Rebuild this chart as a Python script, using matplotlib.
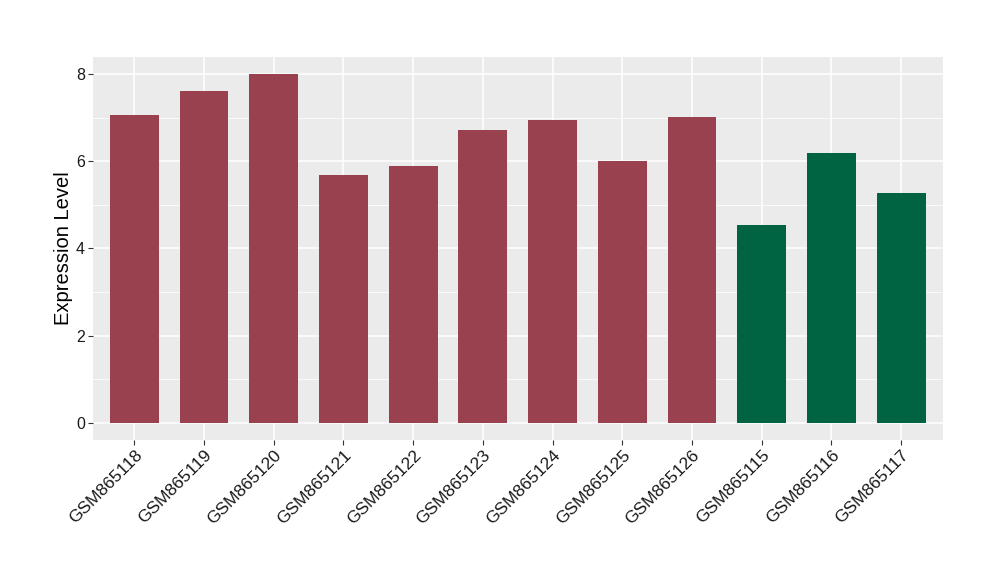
import matplotlib
matplotlib.use("Agg")
import matplotlib.pyplot as plt
import numpy as np

samples = ["GSM865118", "GSM865119", "GSM865120", "GSM865121", "GSM865122", "GSM865123",
           "GSM865124", "GSM865125", "GSM865126", "GSM865115", "GSM865116", "GSM865117"]
values = [7.07, 7.62, 8.01, 5.69, 5.89, 6.72, 6.95, 6.01, 7.02, 4.54, 6.19, 5.28]
groups = ["A"] * 9 + ["B"] * 3
group_colors = {"A": "#9A4150", "B": "#006443"}

plt.rcParams['font.family'] = ['Liberation Sans', 'DejaVu Sans']

fig = plt.figure(figsize=(10, 5.8), dpi=100)
ax = fig.add_axes([0.0925, 1 - 440 / 580, 0.943 - 0.0925, (440 - 57) / 580])

ax.set_facecolor("#EBEBEB")
x = np.arange(len(samples))
ax.bar(x, values, width=0.7, color=[group_colors[g] for g in groups], zorder=3)

ax.set_xlim(-0.6, len(samples) - 0.4)
ax.set_ylim(-0.4, 8.4)
ax.set_yticks([0, 2, 4, 6, 8])
ax.set_yticks([1, 3, 5, 7], minor=True)
ax.set_xticks(x)
ax.set_xticklabels(samples, rotation=45, ha="right", va="top", rotation_mode="anchor",
                   fontsize=12.5)

ax.grid(True, which="major", color="white", linewidth=1.1, zorder=0)
ax.grid(True, which="minor", axis="y", color="white", linewidth=0.55, zorder=0)
ax.set_axisbelow(True)
for s in ax.spines.values():
    s.set_visible(False)

ax.tick_params(axis="both", which="major", length=3.5, width=0.8, color="#333333",
               labelcolor="#1A1A1A", pad=2)
ax.tick_params(axis="y", which="major", labelsize=11.5)
ax.tick_params(axis="y", which="minor", length=0)
ax.set_ylabel("Expression Level", fontsize=14.5, color="black", labelpad=2)

fig.savefig("out.png", dpi=100)
